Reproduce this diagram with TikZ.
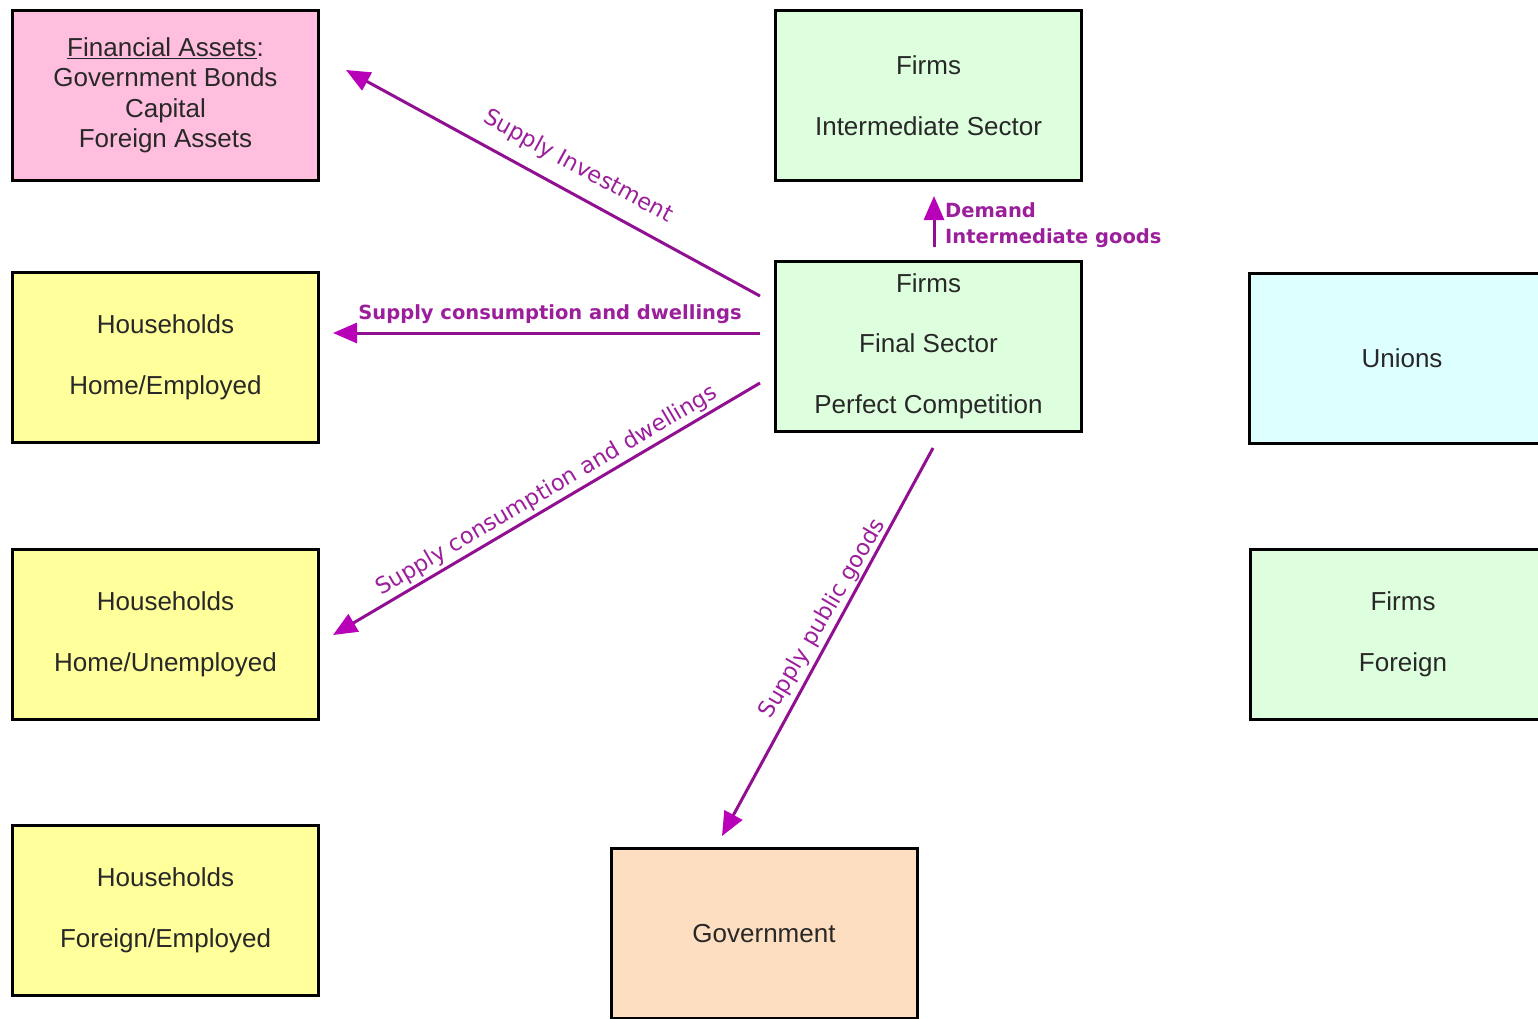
\documentclass[tikz,border=0pt]{standalone}
\usepackage{fontspec}
\setmainfont{Liberation Sans}
\newfontfamily\flowfont{DejaVu Sans}
\usetikzlibrary{arrows.meta}

\definecolor{boxtext}{RGB}{40,40,40}
\definecolor{flowline}{RGB}{145,15,145}
\definecolor{flowtip}{RGB}{185,0,185}
\definecolor{flowtext}{RGB}{155,30,155}
\definecolor{assetfill}{RGB}{255,190,222}
\definecolor{housefill}{RGB}{255,255,155}
\definecolor{firmfill}{RGB}{222,255,222}
\definecolor{unionfill}{RGB}{222,255,255}
\definecolor{govfill}{RGB}{253,222,192}

\begin{document}
\begin{tikzpicture}[x=1pt,y=-1pt,
  box/.style={draw=black, line width=3pt, minimum width=306pt, minimum height=170pt,
    inner sep=0pt, align=center, text=boxtext, font=\fontsize{26}{61}\selectfont},
  flow/.style={draw=flowline, line width=3pt,
    -{Triangle[length=24pt,width=20pt,color=flowtip]}},
  flowlabel/.style={text=flowtext, inner sep=0pt, font=\flowfont\fontsize{22.5}{27}\selectfont},
  boldlabel/.style={text=flowtext, inner sep=0pt, align=left,
    font=\flowfont\bfseries\fontsize{19.5}{26}\selectfont}]
\useasboundingbox (0,0) rectangle (1538,1018);

% sector boxes
\node[box, fill=assetfill, font=\fontsize{26}{30.5}\selectfont] (assets) at (165.5,95.5)
  {\underline{Financial Assets}:\\Government Bonds\\Capital\\Foreign Assets};
\node[box, fill=firmfill] (inter) at (928.5,95.5) {Firms\\Intermediate Sector};
\node[box, fill=housefill] (homeemp) at (165.5,357.5) {Households\\Home/Employed};
\node[box, fill=firmfill, font=\fontsize{26}{60.5}\selectfont] (final) at (928.5,346)
  {Firms\\Final Sector\\Perfect Competition};
\node[box, fill=unionfill] (unions) at (1402,358.5) {Unions};
\node[box, fill=housefill] (homeunemp) at (165.5,634) {Households\\Home/Unemployed};
\node[box, fill=firmfill] (foreignfirms) at (1403,634) {Firms\\Foreign};
\node[box, fill=housefill] (foreignemp) at (165.5,910) {Households\\Foreign/Employed};
\node[box, fill=govfill] (gov) at (764,933.5) {Government};

% free ends of the flows
\coordinate (invA) at (760,296);
\coordinate (invB) at (346,70);
\coordinate (demA) at (934,247);
\coordinate (demB) at (934,196);
\coordinate (conA) at (760,333);
\coordinate (conB) at (333,333);
\coordinate (unA) at (760,383);
\coordinate (unB) at (333,635);
\coordinate (pubA) at (933,448);
\coordinate (pubB) at (722,836);

% flows out of the final sector
\draw[flow] (invA) -- (invB);
\draw[flow] (demA) -- (demB);
\draw[flow] (conA) -- (conB);
\draw[flow] (unA) -- (unB);
\draw[flow] (pubA) -- (pubB);

% flow labels
\node[flowlabel, rotate=-28.6] (invlab) at (578,167) {Supply Investment};
\node[boldlabel, anchor=west] (demlab) at (945,225) {Demand\\Intermediate goods};
\node[boldlabel] (conlab) at (550,314) {Supply consumption and dwellings};
\node[flowlabel, rotate=30.5] (unlab) at (547,491) {Supply consumption and dwellings};
\node[flowlabel, rotate=59.5] (publab) at (823,619) {Supply public goods};
\end{tikzpicture}
\end{document}
